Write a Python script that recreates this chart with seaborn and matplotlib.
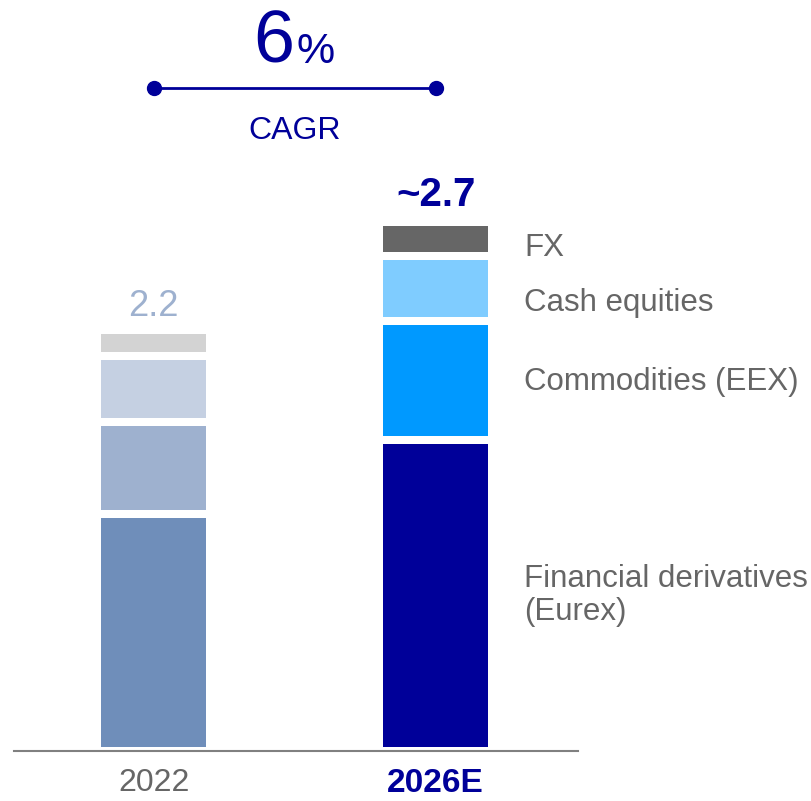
import numpy as np
import pandas as pd
import seaborn as sns
import matplotlib.pyplot as plt

# %% data (EUR bn)
years = ['2022', '2026E']
segments = ['Financial derivatives\n(Eurex)', 'Commodities (EEX)', 'Cash equities', 'FX']
fin_derivatives = [1.24, 1.625]
commodities = [0.48, 0.62]
cash_equities = [0.345, 0.34]
fx = [0.135, 0.18]
total_labels = ['2.2', '~2.7']
cagr_value = '6'
cagr_label = 'CAGR'

colors_2022 = ['#6f8eba', '#9eb1cf', '#c5d0e2', '#d3d3d3']
colors_2026 = ['#000099', '#0099ff', '#7fccff', '#666666']
navy = '#000099'
grey_text = '#666666'

sns.set_style('white')
plt.rcParams['font.family'] = ['Liberation Sans', 'DejaVu Sans']

values = pd.DataFrame([fin_derivatives, commodities, cash_equities, fx],
                      index=segments, columns=years)

fig = plt.figure(figsize=(8.12, 8.01), dpi=100)
ax = fig.add_axes([14 / 812, 50 / 801, 564 / 812, 751 / 801])

bar_width = 0.4
for i, (year, palette) in enumerate(zip(years, [colors_2022, colors_2026])):
    bottom = 0
    for seg, col in zip(segments, palette):
        val = values.loc[seg, year]
        sns.barplot(x=[year], y=[val], order=years, bottom=bottom, color=col,
                    saturation=1, width=bar_width, edgecolor='white', linewidth=5.76,
                    errorbar=None, ax=ax)
        bottom += val

totals = values.sum(axis=0)

# totals above bars
ax.annotate(total_labels[0], xy=(0, totals[years[0]]), xytext=(0, 10), textcoords='offset points',
            ha='center', va='baseline', fontsize=26, color='#9eb1cf')
ax.annotate(total_labels[1], xy=(1, totals[years[1]]), xytext=(0, 11.3), textcoords='offset points',
            ha='center', va='baseline', fontsize=29, color=navy, fontweight='bold')

# segment labels right of the 2026E bar
label_offsets = [0, -1, -10, -6.5]
cum = values[years[1]].cumsum()
mids = cum - values[years[1]] / 2
for seg, off in zip(segments, label_offsets):
    ax.annotate(seg, xy=(1 + bar_width / 2, mids[seg]), xytext=(23, off), textcoords='offset points',
                ha='left', va='center', fontsize=22.5, color=grey_text, linespacing=1.1)

# CAGR bracket
line_y = totals.max() + 0.7
ax.plot([0, 1], [line_y, line_y], color=navy, lw=2, marker='o', markersize=10, clip_on=False)
ax.text(0.5, line_y + 0.13, cagr_value, ha='right', va='baseline', fontsize=53, color=navy)
ax.text(0.505, line_y + 0.13, '%', ha='left', va='baseline', fontsize=31, color=navy)
ax.text(0.5, line_y - 0.267, cagr_label, ha='center', va='baseline', fontsize=23, color=navy)

# axes styling
ax.set_xlim(-0.495, 1.505)
ax.set_ylim(0, 3.924)
ax.set_xlabel('')
ax.set_ylabel('')
ax.set_yticks([])
ax.set_xticks([0, 1])
ax.set_xticklabels(years, fontsize=23)
ax.tick_params(axis='x', length=0, pad=12)
tl = ax.get_xticklabels()
tl[0].set_color(grey_text)
tl[1].set_color(navy)
tl[1].set_fontweight('bold')
tl[1].set_fontsize(24)
for s in ['top', 'left', 'right']:
    ax.spines[s].set_visible(False)
ax.spines['bottom'].set_color('#808080')
ax.spines['bottom'].set_linewidth(1.5)

plt.savefig('out.png', dpi=100)
